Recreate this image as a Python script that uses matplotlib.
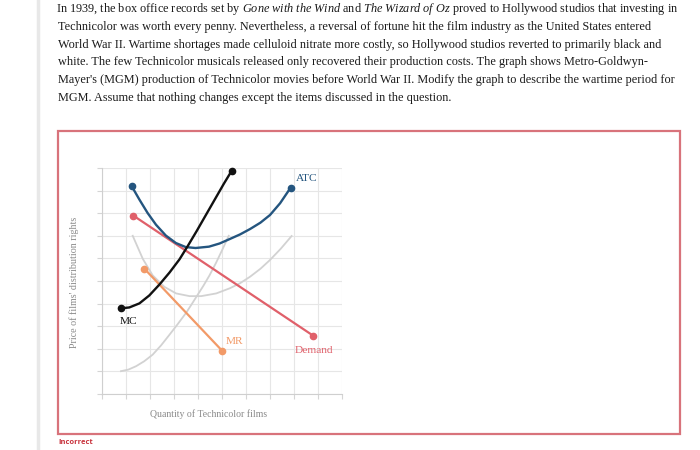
import matplotlib.pyplot as plt
from matplotlib.patches import Rectangle

# question text, one entry per line as it wraps in the page
text_lines = [
    r"In 1939, the box office records set by $\mathit{Gone\ with\ the\ Wind}$ and $\mathit{The\ Wizard\ of\ Oz}$ proved to Hollywood studios that investing in",
    "Technicolor was worth every penny. Nevertheless, a reversal of fortune hit the film industry as the United States entered",
    "World War II. Wartime shortages made celluloid nitrate more costly, so Hollywood studios reverted to primarily black and",
    "white. The few Technicolor musicals released only recovered their production costs. The graph shows Metro-Goldwyn-",
    "Mayer's (MGM) production of Technicolor movies before World War II. Modify the graph to describe the wartime period for",
    "MGM. Assume that nothing changes except the items discussed in the question.",
]

# curves (grid units 0-10)
mc_x = [0.79, 1.14, 1.56, 1.97, 2.39, 2.81, 3.23, 3.58, 3.95, 4.35, 4.75, 5.08, 5.40]
mc_y = [3.79, 3.83, 4.01, 4.36, 4.84, 5.37, 5.96, 6.56, 7.22, 7.96, 8.70, 9.31, 9.87]

atc_x = [1.24, 1.56, 1.90, 2.25, 2.66, 3.08, 3.49, 3.90, 4.46, 4.90, 5.33, 5.75, 6.17, 6.60, 7.00, 7.42, 7.86]
atc_y = [9.19, 8.60, 8.01, 7.49, 7.01, 6.68, 6.50, 6.46, 6.52, 6.66, 6.86, 7.06, 7.30, 7.58, 7.92, 8.44, 9.13]

demand_x = [1.31, 8.80]
demand_y = [7.89, 2.58]

mr_x = [1.77, 5.00]
mr_y = [5.54, 1.92]

gray_u_x = [1.28, 1.70, 2.11, 2.60, 3.09, 3.65, 4.13, 4.76, 5.33, 5.75, 6.17, 6.60, 7.00, 7.45, 7.90]
gray_u_y = [7.00, 5.98, 5.25, 4.74, 4.45, 4.33, 4.33, 4.45, 4.68, 4.90, 5.19, 5.54, 5.93, 6.43, 6.99]

gray_mc_x = [0.79, 1.10, 1.42, 1.76, 2.11, 2.46, 2.81, 3.16, 3.51, 3.73, 3.95, 4.22, 4.48, 4.75, 5.02, 5.28]
gray_mc_y = [1.01, 1.08, 1.23, 1.45, 1.74, 2.15, 2.62, 3.10, 3.60, 3.96, 4.33, 4.78, 5.25, 5.80, 6.40, 7.00]

curve_labels = ["MC", "ATC", "MR", "Demand"]
label_pos = [(1.1, 3.2), (8.53, 9.54), (5.54, 2.31), (8.84, 1.93)]
label_colors = ["#111111", "#24557f", "#f29a68", "#e0606a"]

plt.rcParams['mathtext.fontset'] = 'custom'
plt.rcParams['mathtext.rm'] = 'Liberation Serif'
plt.rcParams['mathtext.it'] = 'Liberation Serif:italic'

W, H = 700, 450
fig = plt.figure(figsize=(7, 4.5), dpi=100)


def px(x, y):
    return x / W, 1 - y / H


# page border on the left
fig.add_artist(plt.Line2D([38 / W, 38 / W], [0, 1], color="#e8e8e8", lw=2.5))

for i, line in enumerate(text_lines):
    x = 56.5 if i == 0 else 58   # mathtext line sits a bit to the right
    fig.text(*px(x, 9 + i * 17.8), line, family="Liberation Serif", fontsize=8.8,
             color="#1a1a1a", va="center", ha="left")

# red answer box
x0, y0 = px(58, 434)
x1, y1 = px(680, 131)
fig.add_artist(Rectangle((x0, y0), x1 - x0, y1 - y0, transform=fig.transFigure,
                         fill=False, edgecolor="#d8737b", lw=1.6))
fig.text(*px(58, 443), "Incorrect", family="Open Sans", fontweight="bold",
         fontsize=5.4, color="#c8323c", va="center")

ax = fig.add_axes([102 / W, 56 / H, 240 / W, 226 / H])
ax.set_xlim(0, 10)
ax.set_ylim(0, 10)
ax.set_xticks(range(11))
ax.set_yticks(range(11))
ax.set_xticklabels([])
ax.set_yticklabels([])
ax.grid(True, color="#e6e6e6", lw=0.8)
ax.set_axisbelow(True)
for s in ["top", "right"]:
    ax.spines[s].set_visible(False)
for s in ["left", "bottom"]:
    ax.spines[s].set_color("#cfcfcf")
ax.tick_params(length=3.5, color="#d5d5d5", width=0.8)

ax.plot(gray_u_x, gray_u_y, color="#d2d2d2", lw=1.3)
ax.plot(gray_mc_x, gray_mc_y, color="#d2d2d2", lw=1.3)
ax.plot(mr_x, mr_y, color="#f29a68", lw=1.6, marker="o", ms=4.5)
ax.plot(demand_x, demand_y, color="#e0606a", lw=1.6, marker="o", ms=4.5)
ax.plot(atc_x, atc_y, color="#24557f", lw=1.7, marker="o", ms=4.5, markevery=[0, -1])
ax.plot(mc_x, mc_y, color="#111111", lw=1.7, marker="o", ms=4.5, markevery=[0, -1], clip_on=False)

for lab, (lx, ly), c in zip(curve_labels, label_pos, label_colors):
    ax.text(lx, ly, lab, color=c, family="Liberation Serif", fontsize=8.2,
            ha="center", va="center")

fig.text(*px(209, 414), "Quantity of Technicolor films", family="Liberation Serif",
         fontsize=7.0, color="#8a8a8a", ha="center", va="center")
fig.text(*px(74, 282), "Price of films' distribution rights", family="Liberation Serif",
         fontsize=7.2, color="#8a8a8a", ha="center", va="center", rotation=90)

fig.savefig("out.png", dpi=100)
